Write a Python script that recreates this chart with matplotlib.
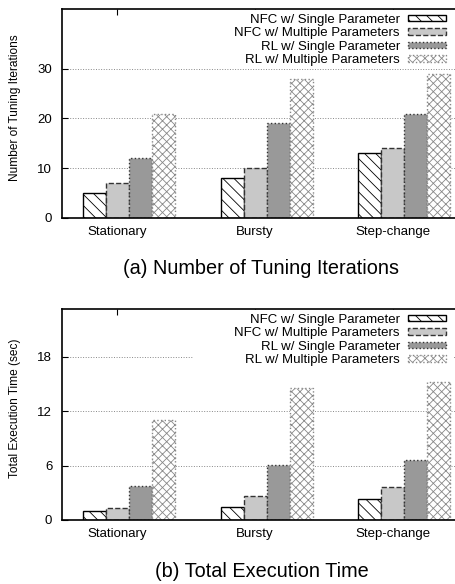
import matplotlib
matplotlib.use("Agg")
import matplotlib.pyplot as plt
from matplotlib.patches import Rectangle

plt.rcParams['font.family'] = ['Liberation Sans', 'DejaVu Sans']
plt.rcParams['hatch.linewidth'] = 0.6

# data
workloads = ["Stationary", "Bursty", "Step-change"]
series = ["NFC w/ Single Parameter", "NFC w/ Multiple Parameters",
          "RL w/ Single Parameter", "RL w/ Multiple Parameters"]
iterations = [
    [5, 8, 13],
    [7, 10, 14],
    [12, 19, 21],
    [21, 28, 29],
]
exec_time = [
    [0.95, 1.4, 2.28],
    [1.32, 2.65, 3.67],
    [3.78, 6.03, 6.6],
    [11.0, 14.6, 15.25],
]

# bar styles (fill, edge, linestyle, hatch)
styles = [
    dict(facecolor="white", edgecolor="black", linestyle="-", hatch="\\\\\\"),
    dict(facecolor="#c8c8c8", edgecolor="#333333", linestyle="--", hatch=None),
    dict(facecolor="#999999", edgecolor="#333333", linestyle=":", hatch=None),
    dict(facecolor="white", edgecolor="#888888", linestyle=":", hatch="xxxx"),
]

fig = plt.figure(figsize=(4.56, 5.84), dpi=100)
ax1 = fig.add_axes([62/456, 1-218/584, 394/456, 209/584])
ax2 = fig.add_axes([62/456, 1-520/584, 394/456, 211/584])

width = 1/6
offsets = [-1, 0, 1, 2]


def draw(ax, data, ylim, yticks, ylabel, caption, cap_y):
    for i in range(4):
        xs = [k + offsets[i]*width for k in range(len(workloads))]
        ax.bar(xs, data[i], width=width, linewidth=1.0, zorder=2,
               label=series[i], **styles[i])
    ax.set_xlim(-0.4, 2.457)
    ax.set_ylim(*ylim)
    ax.set_yticks(yticks)
    ax.set_xticks(range(len(workloads)))
    ax.set_xticklabels(workloads, fontsize=9.5)
    ax.tick_params(axis='y', direction='in', length=4, labelsize=9.5, pad=7)
    ax.tick_params(axis='x', direction='in', length=4, bottom=False, top=True, pad=6)
    ax.spines['right'].set_visible(False)
    for s in ['left', 'top', 'bottom']:
        ax.spines[s].set_linewidth(1.2)
    ax.set_axisbelow(True)
    ax.yaxis.grid(True, linestyle=':', color='#888888', linewidth=0.7)
    # white key box that hides the grid behind the legend
    ax.add_patch(Rectangle((0.3325, 0.725), 0.66, 0.27, transform=ax.transAxes,
                           facecolor='white', edgecolor='none', zorder=1))
    ax.set_ylabel(ylabel, fontsize=8.6)
    ax.yaxis.set_label_coords(-0.105, 0.53)
    ax.legend(loc='upper right', bbox_to_anchor=(0.9746, 0.978), frameon=False,
              markerfirst=False, fontsize=9.5, handlelength=2.9, handleheight=0.38,
              handletextpad=0.6, labelspacing=0.12, borderpad=0, borderaxespad=0)
    fig.text(261.5/456, 1-cap_y/584, caption, fontsize=14.3, ha='center', va='center')


draw(ax1, iterations, (0, 42), [0, 10, 20, 30], "Number of Tuning Iterations",
     "(a) Number of Tuning Iterations", 268)
draw(ax2, exec_time, (0, 23.3), [0, 6, 12, 18], "Total Execution Time (sec)",
     "(b) Total Execution Time", 571.5)

fig.savefig("out.png", dpi=100)
